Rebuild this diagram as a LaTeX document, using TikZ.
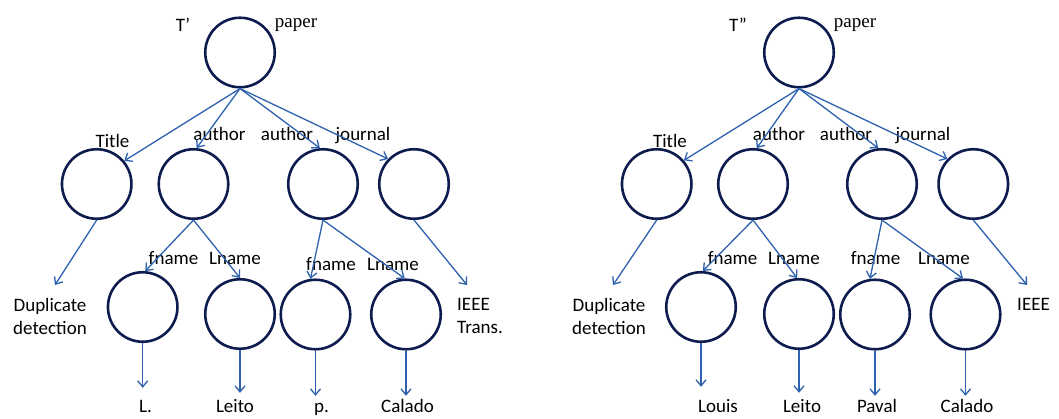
\documentclass[tikz,border=0pt]{standalone}
\usepackage{fontspec}
\setmainfont{Carlito}
\newfontfamily\serifface{Liberation Serif}
\usetikzlibrary{arrows.meta}
\definecolor{ringnavy}{HTML}{0E1B4F}
\definecolor{linkblue}{HTML}{2E62AE}
\begin{document}
\begin{tikzpicture}[x=1pt,y=-1pt,
  vertex/.style={circle, draw=ringnavy, line width=2.6pt, minimum size=69.5pt, inner sep=0pt},
  link/.style={draw=linkblue, line width=1.3pt, -{Straight Barb[length=6pt,width=10pt]}},
  lbl/.style={font=\fontsize{19}{23}\selectfont, inner sep=0pt, anchor=base},
  serlbl/.style={lbl, font=\serifface\fontsize{19}{23}\selectfont},
  leaf/.style={lbl, text height=13pt, text depth=0pt},
  twoline/.style={font=\fontsize{19}{23}\selectfont, inner sep=0pt},
]
\useasboundingbox[fill=white] (0,0) rectangle (1059,418);

% ---------- tree T' ----------
\node[vertex] (r1) at (240,52.5) {};
\node[vertex] (a1) at (96.7,184) {};
\node[vertex] (a2) at (193.5,184) {};
\node[vertex] (a3) at (323,184) {};
\node[vertex] (a4) at (414,184) {};
\node[vertex] (b1) at (142.7,307) {};
\node[vertex] (b2) at (240,314) {};
\node[vertex] (b3) at (315.5,314.5) {};
\node[vertex] (b4) at (406,314.5) {};

\node[lbl] (t1) at (183,31) {T’};
\node[serlbl] (p1) at (296,27.5) {paper};
\node[lbl] (la1) at (112.5,147) {Title};
\node[lbl] (la2) at (219.5,140) {author};
\node[lbl] (la3) at (287,140) {author};
\node[lbl] (la4) at (363,140) {journal};
\node[lbl] (lb1) at (173.5,264) {fname};
\node[lbl] (lb2) at (235,264) {Lname};
\node[lbl] (lb3) at (331,270) {fname};
\node[lbl] (lb4) at (393,270) {Lname};
\node[twoline, align=center, anchor=north] (dup1) at (50,298) {Duplicate\\detection};
\node[twoline, align=left, anchor=north west] (ven1) at (457,298) {IEEE\\Trans.};
\node[leaf] (v1) at (145.5,412) {L.};
\node[leaf] (v2) at (235,412) {Leito};
\node[leaf] (v3) at (321.5,412) {p.};
\node[leaf] (v4) at (407.5,412) {Calado};

\draw[link] (r1.south) -- (a1.40);
\draw[link] (r1.south) -- (a2.85);
\draw[link] (r1.south) -- (a3.95);
\draw[link] (r1.south) -- (a4.136);
\draw[link] (a1.south) -- ([xshift=5pt,yshift=13pt]dup1.north);
\draw[link] (a4.south) -- ([xshift=10pt,yshift=13pt]ven1.north west);
\draw[link] (a2.south) -- (b1.86);
\draw[link] (a2.south) -- (b2.90);
\draw[link] (a3.south) -- (b3.98);
\draw[link] (a3.south) -- (b4.92);
\draw[link, shorten >=11pt] (b1.south) -- (b1.south |- v1.north);
\draw[link, shorten >=6pt] (b2.south) -- (b2.south |- v2.north);
\draw[link, shorten >=3pt] (b3.south) -- (b3.south |- v3.north);
\draw[link, shorten >=3pt] (b4.south) -- (b4.south |- v4.north);

% ---------- tree T'' ----------
\node[vertex] (r2) at (799,52.5) {};
\node[vertex] (c1) at (656.7,184) {};
\node[vertex] (c2) at (753,184) {};
\node[vertex] (c3) at (882,184) {};
\node[vertex] (c4) at (973.3,184) {};
\node[vertex] (d1) at (701,307) {};
\node[vertex] (d2) at (799,314) {};
\node[vertex] (d3) at (875,314.5) {};
\node[vertex] (d4) at (965.5,314.5) {};

\node[lbl] (t2) at (738,31) {T”};
\node[serlbl] (p2) at (855,27.5) {paper};
\node[lbl] (lc1) at (670,147) {Title};
\node[lbl] (lc2) at (779,140) {author};
\node[lbl] (lc3) at (846,140) {author};
\node[lbl] (lc4) at (923,140) {journal};
\node[lbl] (ld1) at (732.5,264) {fname};
\node[lbl] (ld2) at (794,264) {Lname};
\node[lbl] (ld3) at (875.5,264) {fname};
\node[lbl] (ld4) at (944,264) {Lname};
\node[twoline, align=center, anchor=north] (dup2) at (609,298) {Duplicate\\detection};
\node[twoline, align=left, anchor=north west] (ven2) at (1017,298) {IEEE};
\node[leaf] (w1) at (718,412) {Louis};
\node[leaf] (w2) at (802,412) {Leito};
\node[leaf] (w3) at (877,412) {Paval};
\node[leaf] (w4) at (967,412) {Calado};

\draw[link] (r2.south) -- (c1.41);
\draw[link] (r2.south) -- (c2.84);
\draw[link] (r2.south) -- (c3.96);
\draw[link] (r2.south) -- (c4.136);
\draw[link] (c1.south) -- ([xshift=4pt,yshift=13pt]dup2.north);
\draw[link] (c4.south) -- ([xshift=10pt,yshift=13pt]ven2.north west);
\draw[link] (c2.south) -- (d1.87);
\draw[link] (c2.south) -- (d2.93);
\draw[link] (c3.south) -- (d3.98);
\draw[link] (c3.south) -- (d4.94);
\draw[link, shorten >=12pt] (d1.south) -- (d1.south |- w1.north);
\draw[link, shorten >=6pt] (d2.south) -- (d2.south |- w2.north);
\draw[link, shorten >=3pt] (d3.south) -- (d3.south |- w3.north);
\draw[link, shorten >=3pt] (d4.south) -- (d4.south |- w4.north);
\end{tikzpicture}
\end{document}
